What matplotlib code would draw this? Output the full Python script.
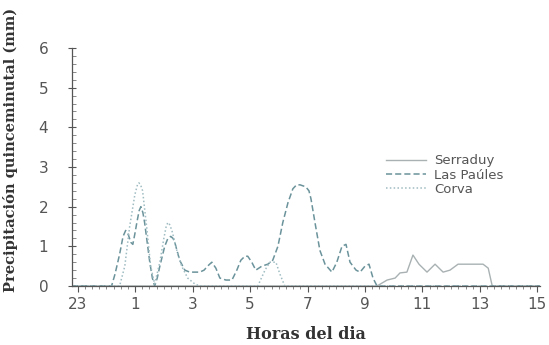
import numpy as np
import matplotlib
matplotlib.use("Agg")
import matplotlib.pyplot as plt
from matplotlib.ticker import MultipleLocator

# hours counted from 23:00 (0 = 23h, 2 = 1h, ... 16 = 15h)
paules_h = [-0.2, 1.18, 1.3, 1.46, 1.58, 1.67, 1.76, 1.85, 1.92, 2.0, 2.06, 2.14, 2.2, 2.27,
            2.33, 2.42, 2.51, 2.6, 2.68, 2.77, 2.86, 3.03, 3.14,
            3.24, 3.32, 3.38, 3.55, 3.73, 3.9, 4.25, 4.4, 4.52, 4.67, 4.81, 4.95, 5.16, 5.37,
            5.54, 5.68, 5.82, 5.92, 6.06, 6.2, 6.41, 6.62, 6.79, 6.97, 7.14, 7.32, 7.49,
            7.62, 7.74, 7.94, 8.05, 8.12, 8.26, 8.43, 8.61, 8.85, 9.02, 9.2, 9.34, 9.48,
            9.69, 9.83, 10.0, 10.14, 10.28, 10.42, 16.1]
paules_v = [0, 0, 0.3, 0.8, 1.25, 1.4, 1.3, 1.1, 1.05, 1.35, 1.6, 1.9, 2.0, 1.85,
            1.6, 1.1, 0.6, 0.2, 0, 0.2, 0.5, 1.0, 1.2,
            1.25, 1.2, 1.1, 0.65, 0.4, 0.35, 0.35, 0.4, 0.5, 0.6, 0.45, 0.2, 0.15, 0.15,
            0.4, 0.65, 0.75, 0.75, 0.6, 0.4, 0.5, 0.55, 0.65, 1.0, 1.6, 2.1, 2.45,
            2.55, 2.55, 2.5, 2.4, 2.2, 1.6, 0.9, 0.55, 0.35, 0.6, 1.0, 1.05, 0.6,
            0.4, 0.35, 0.5, 0.55, 0.2, 0, 0]

corva_h = [-0.2, 1.46, 1.64, 1.81, 1.99, 2.08, 2.13, 2.19, 2.26, 2.4, 2.54, 2.68, 2.86,
           3.0, 3.08, 3.14, 3.2, 3.28, 3.45, 3.62, 3.83, 4.08, 4.25, 6.27, 6.52, 6.69,
           6.9, 7.04, 7.21, 16.1]
corva_v = [0, 0, 0.5, 1.5, 2.3, 2.55, 2.6, 2.55, 2.4, 1.5, 0.5, 0.05, 0.6,
           1.2, 1.5, 1.6, 1.55, 1.4, 0.9, 0.5, 0.2, 0.05, 0, 0, 0.4, 0.6,
           0.6, 0.3, 0, 0]

serraduy_h = [-0.2, 10.42, 10.77, 11.05, 11.22, 11.46, 11.67, 11.88, 12.16, 12.44,
              12.72, 12.96, 13.24, 13.55, 14.11, 14.29, 14.43, 16.1]
serraduy_v = [0, 0, 0.15, 0.2, 0.33, 0.35, 0.78, 0.55, 0.35, 0.55,
              0.35, 0.4, 0.55, 0.55, 0.55, 0.45, 0, 0]

tick_pos = [0, 2, 4, 6, 8, 10, 12, 14, 16]
tick_lab = ["23", "1", "3", "5", "7", "9", "11", "13", "15"]

fig = plt.figure(figsize=(5.49, 3.45), dpi=100)
ax = fig.add_axes([0.131, 0.171, 0.853, 0.69])

ax.plot(serraduy_h, serraduy_v, color="#a9b1b2", lw=1.0, ls="-", label="Serraduy")
ax.plot(paules_h, paules_v, color="#6b939b", lw=1.1, ls=(0, (4, 2)), label="Las Paúles")
ax.plot(corva_h, corva_v, color="#9fbcc2", lw=1.1, ls=(0, (1, 1.5)), label="Corva")

ax.set_xlim(-0.2, 16.1)
ax.set_ylim(0, 6)
ax.set_xticks(tick_pos)
ax.set_xticklabels(tick_lab)
ax.xaxis.set_minor_locator(MultipleLocator(0.25))
ax.yaxis.set_major_locator(MultipleLocator(1))
ax.yaxis.set_minor_locator(MultipleLocator(0.2))

for s in ["top", "right"]:
    ax.spines[s].set_visible(False)
for s in ["left", "bottom"]:
    ax.spines[s].set_color("#555555")
    ax.spines[s].set_linewidth(0.9)

ax.tick_params(axis="x", which="major", direction="out", length=4, color="#555555",
               labelsize=11, labelcolor="#555555", pad=4)
ax.tick_params(axis="x", which="minor", direction="out", length=2.5, color="#777777")
ax.tick_params(axis="y", which="major", direction="inout", length=6, color="#555555",
               labelsize=11, labelcolor="#555555", pad=14)
ax.tick_params(axis="y", which="minor", direction="in", length=3, color="#777777")

ax.set_ylabel("Precipitación quinceminutal (mm)", family="DejaVu Serif",
              fontweight="bold", fontsize=10.5, color="#333333")
ax.yaxis.set_label_coords(-0.115, 0.57)
ax.set_xlabel("Horas del dia", family="DejaVu Serif", fontweight="bold",
              fontsize=11.5, color="#333333", labelpad=10)

leg = ax.legend(loc="upper left", bbox_to_anchor=(0.66, 0.575), frameon=False,
                fontsize=9.5, handlelength=3.0, handletextpad=0.6, labelspacing=0.1,
                borderaxespad=0)
for t in leg.get_texts():
    t.set_color("#555555")

fig.savefig("out.png", dpi=100)
